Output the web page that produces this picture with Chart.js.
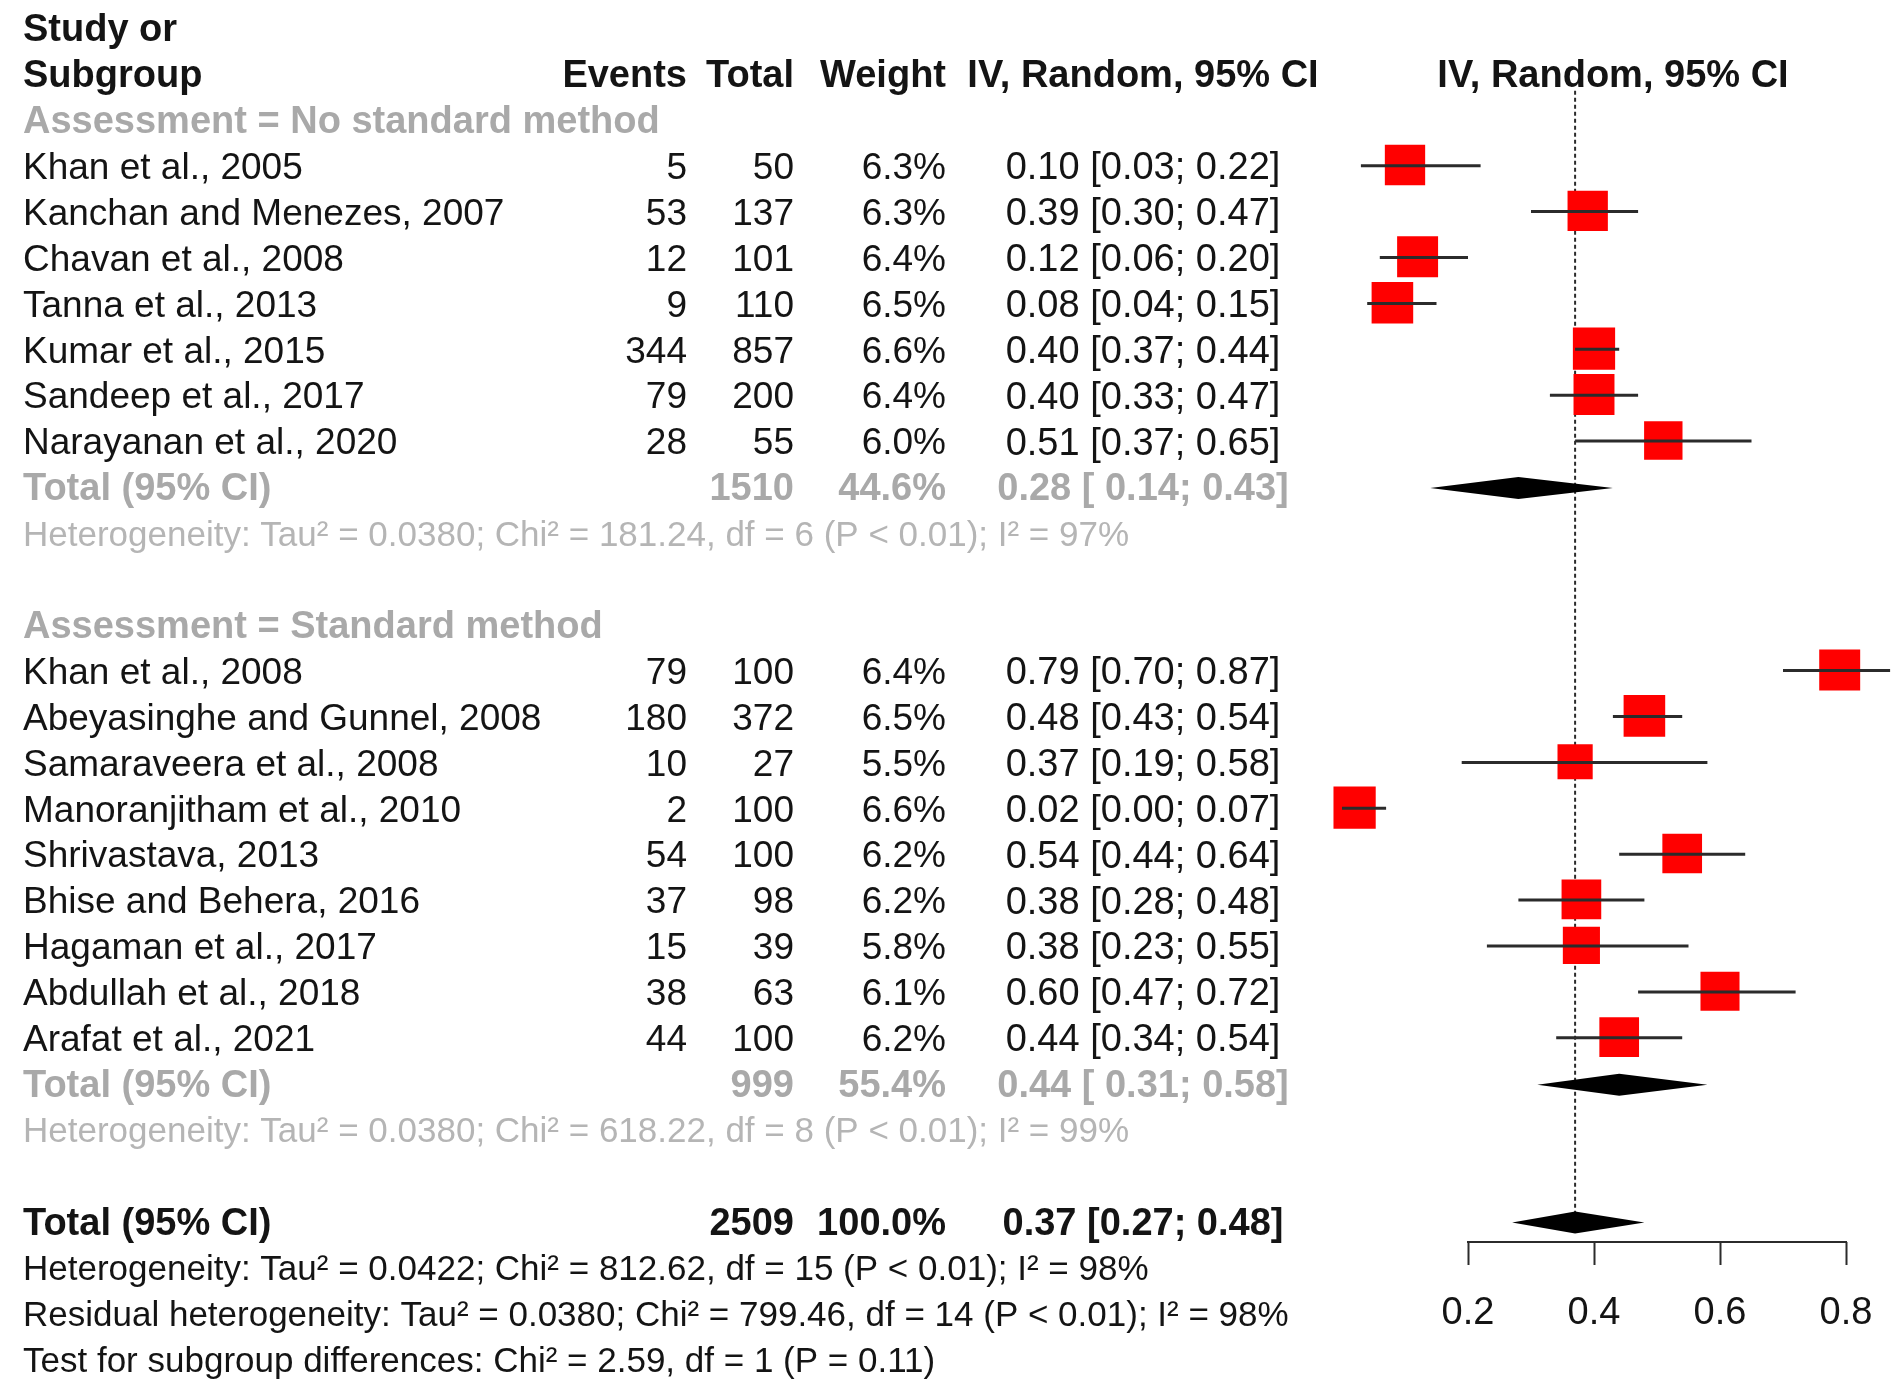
<!DOCTYPE html>
<html>
<head>
<meta charset="utf-8">
<title>Forest plot</title>
<script src="https://cdn.jsdelivr.net/npm/chart.js@4.4.1/dist/chart.umd.min.js"></script>
<style>
  html, body { margin: 0; padding: 0; background: #fff; }
  canvas { display: block; }
</style>
</head>
<body>
<canvas id="forest" width="1900" height="1392"></canvas>
<script>
// ---- Datos ----
const groupNames = ['Assessment = No standard method', 'Assessment = Standard method'];
const studyNames = [
  'Khan et al., 2005', 'Kanchan and Menezes, 2007', 'Chavan et al., 2008', 'Tanna et al., 2013',
  'Kumar et al., 2015', 'Sandeep et al., 2017', 'Narayanan et al., 2020',
  'Khan et al., 2008', 'Abeyasinghe and Gunnel, 2008', 'Samaraveera et al., 2008',
  'Manoranjitham et al., 2010', 'Shrivastava, 2013', 'Bhise and Behera, 2016',
  'Hagaman et al., 2017', 'Abdullah et al., 2018', 'Arafat et al., 2021'
];
const studyGroup = [0, 0, 0, 0, 0, 0, 0, 1, 1, 1, 1, 1, 1, 1, 1, 1];
const events  = [5, 53, 12, 9, 344, 79, 28, 79, 180, 10, 2, 54, 37, 15, 38, 44];
const totals  = [50, 137, 101, 110, 857, 200, 55, 100, 372, 27, 100, 100, 98, 39, 63, 100];
const weights = [6.3, 6.3, 6.4, 6.5, 6.6, 6.4, 6.0, 6.4, 6.5, 5.5, 6.6, 6.2, 6.2, 5.8, 6.1, 6.2];
const est     = [0.10, 0.39, 0.12, 0.08, 0.40, 0.40, 0.51, 0.79, 0.48, 0.37, 0.02, 0.54, 0.38, 0.38, 0.60, 0.44];
const lower   = [0.03, 0.30, 0.06, 0.04, 0.37, 0.33, 0.37, 0.70, 0.43, 0.19, 0.00, 0.44, 0.28, 0.23, 0.47, 0.34];
const upper   = [0.22, 0.47, 0.20, 0.15, 0.44, 0.47, 0.65, 0.87, 0.54, 0.58, 0.07, 0.64, 0.48, 0.55, 0.72, 0.54];

const subTotal  = [1510, 999];
const subWeight = [44.6, 55.4];
const subEst    = [0.28, 0.44];
const subLower  = [0.14, 0.31];
const subUpper  = [0.43, 0.58];
const subHet = [
  'Heterogeneity: Tau² = 0.0380; Chi² = 181.24, df = 6 (P < 0.01); I² = 97%',
  'Heterogeneity: Tau² = 0.0380; Chi² = 618.22, df = 8 (P < 0.01); I² = 99%'
];

const overallTotal  = 2509;
const overallWeight = 100.0;
const overallEst    = 0.37;
const overallLower  = 0.27;
const overallUpper  = 0.48;
const overallStats = [
  'Heterogeneity: Tau² = 0.0422; Chi² = 812.62, df = 15 (P < 0.01); I² = 98%',
  'Residual heterogeneity: Tau² = 0.0380; Chi² = 799.46, df = 14 (P < 0.01); I² = 98%',
  'Test for subgroup differences: Chi² = 2.59, df = 1 (P = 0.11)'
];

const xTicks = [0.2, 0.4, 0.6, 0.8];
const xTickLabels = ['0.2', '0.4', '0.6', '0.8'];

// ---- Estilo / layout ----
const FONT = '"Liberation Sans", Arial, Helvetica, sans-serif';
const C_TEXT  = '#141414';
const C_GREY  = '#a9a9a9';
const C_GREY2 = '#b5b5b5';
const C_RED   = '#ff0000';
const C_LINE  = '#2b2b2b';

const W = 1900, H = 1392;
const ROW_Y0 = 31, ROW_H = 45.9;      // pixel del renglon 0 y alto de renglon
const AXIS_H = 150;                   // alto del eje x bajo el area
const X_PX_02 = 1468, X_PX_UNIT = 630; // 0.2 -> 1468px, 1 unidad = 630px

const COL_LEFT = 23, COL_EVENTS = 687, COL_TOTAL = 794, COL_WEIGHT = 946, COL_CI = 1143, COL_PLOT = 1613;

// ---- Renglones ----
const studyRow = [], groupRow = [], totalRow = [], hetRow = [];
let r = 2;
groupNames.forEach((g, gi) => {
  groupRow[gi] = r++;
  studyGroup.forEach((sg, i) => { if (sg === gi) studyRow[i] = r++; });
  totalRow[gi] = r++;
  hetRow[gi] = r++;
  r++;
});
const overallRow = r;
const statsRow = overallStats.map((s, i) => overallRow + 1 + i);

const fmt2 = v => v.toFixed(2);
const ciText = (e, l, u, pad) => `${fmt2(e)} [${pad ? ' ' : ''}${fmt2(l)}; ${fmt2(u)}]`;

// ---- Plugin: tabla, bigotes, diamantes y eje ----
const DIAMOND_H = 11;
const forestPlugin = {
  id: 'forest',
  beforeDatasetsDraw(chart) {
    const { ctx, scales: { x, y } } = chart;
    ctx.save();
    ctx.strokeStyle = C_LINE;
    ctx.lineWidth = 2;
    ctx.setLineDash([4, 3]);
    ctx.beginPath();
    ctx.moveTo(x.getPixelForValue(overallEst), y.getPixelForValue(1.3));
    ctx.lineTo(x.getPixelForValue(overallEst), y.getPixelForValue(overallRow) - DIAMOND_H);
    ctx.stroke();
    ctx.restore();
  },
  afterDatasetsDraw(chart) {
    const { ctx, scales: { x, y } } = chart;
    ctx.save();
    // bigotes IC
    ctx.strokeStyle = C_LINE;
    ctx.lineWidth = 3;
    est.forEach((e, i) => {
      const py = y.getPixelForValue(studyRow[i]) - 3;
      ctx.beginPath();
      ctx.moveTo(x.getPixelForValue(lower[i]), py);
      ctx.lineTo(x.getPixelForValue(upper[i]), py);
      ctx.stroke();
    });
    // diamantes
    const diamond = (e, l, u, row) => {
      const py = y.getPixelForValue(row) - 2, h = DIAMOND_H;
      ctx.beginPath();
      ctx.moveTo(x.getPixelForValue(l), py);
      ctx.lineTo(x.getPixelForValue(e), py - h);
      ctx.lineTo(x.getPixelForValue(u), py);
      ctx.lineTo(x.getPixelForValue(e), py + h);
      ctx.closePath();
      ctx.fillStyle = '#000';
      ctx.fill();
    };
    subEst.forEach((e, gi) => diamond(e, subLower[gi], subUpper[gi], totalRow[gi]));
    diamond(overallEst, overallLower, overallUpper, overallRow);
    ctx.restore();
  },
  afterDraw(chart) {
    const { ctx, scales: { x, y } } = chart;
    const rowY = row => y.getPixelForValue(row);
    const txt = (s, px, row, align, font, color) => {
      ctx.font = font;
      ctx.fillStyle = color;
      ctx.textAlign = align;
      ctx.fillText(s, px, rowY(row));
    };
    const REG = `37px ${FONT}`, BOLD = `bold 38px ${FONT}`, SMALL = `35px ${FONT}`;
    const CI_REG = `38px ${FONT}`;
    ctx.save();
    ctx.textBaseline = 'middle';

    // eje x
    ctx.strokeStyle = C_LINE;
    ctx.lineWidth = 2;
    ctx.beginPath();
    ctx.moveTo(x.getPixelForValue(xTicks[0]) - 1, x.top);
    ctx.lineTo(x.getPixelForValue(xTicks[xTicks.length - 1]) + 1, x.top);
    ctx.stroke();

    // encabezados
    txt('Study or', COL_LEFT, 0, 'left', BOLD, C_TEXT);
    txt('Subgroup', COL_LEFT, 1, 'left', BOLD, C_TEXT);
    txt('Events', COL_EVENTS, 1, 'right', BOLD, C_TEXT);
    txt('Total', COL_TOTAL, 1, 'right', BOLD, C_TEXT);
    txt('Weight', COL_WEIGHT, 1, 'right', BOLD, C_TEXT);
    txt('IV, Random, 95% CI', COL_CI, 1, 'center', BOLD, C_TEXT);
    txt('IV, Random, 95% CI', COL_PLOT, 1, 'center', BOLD, C_TEXT);

    groupNames.forEach((g, gi) => {
      txt(g, COL_LEFT, groupRow[gi], 'left', BOLD, C_GREY);
      txt('Total (95% CI)', COL_LEFT, totalRow[gi], 'left', BOLD, C_GREY);
      txt(String(subTotal[gi]), COL_TOTAL, totalRow[gi], 'right', BOLD, C_GREY);
      txt(subWeight[gi].toFixed(1) + '%', COL_WEIGHT, totalRow[gi], 'right', BOLD, C_GREY);
      txt(ciText(subEst[gi], subLower[gi], subUpper[gi], true), COL_CI, totalRow[gi], 'center', BOLD, C_GREY);
      txt(subHet[gi], COL_LEFT, hetRow[gi], 'left', SMALL, C_GREY2);
    });

    studyNames.forEach((name, i) => {
      const row = studyRow[i];
      txt(name, COL_LEFT, row, 'left', REG, C_TEXT);
      txt(String(events[i]), COL_EVENTS, row, 'right', REG, C_TEXT);
      txt(String(totals[i]), COL_TOTAL, row, 'right', REG, C_TEXT);
      txt(weights[i].toFixed(1) + '%', COL_WEIGHT, row, 'right', REG, C_TEXT);
      txt(ciText(est[i], lower[i], upper[i], false), COL_CI, row, 'center', CI_REG, C_TEXT);
    });

    txt('Total (95% CI)', COL_LEFT, overallRow, 'left', BOLD, C_TEXT);
    txt(String(overallTotal), COL_TOTAL, overallRow, 'right', BOLD, C_TEXT);
    txt(overallWeight.toFixed(1) + '%', COL_WEIGHT, overallRow, 'right', BOLD, C_TEXT);
    txt(ciText(overallEst, overallLower, overallUpper, false), COL_CI, overallRow, 'center', BOLD, C_TEXT);
    overallStats.forEach((s, i) => txt(s, COL_LEFT, statsRow[i], 'left', SMALL, C_TEXT));

    ctx.restore();
  }
};

// ---- Chart ----
const yMin = -ROW_Y0 / ROW_H;
const yMax = (H - AXIS_H - ROW_Y0) / ROW_H;
const xMin = 0.2 - X_PX_02 / X_PX_UNIT;
const xMax = 0.2 + (W - X_PX_02) / X_PX_UNIT;

new Chart(document.getElementById('forest'), {
  type: 'scatter',
  data: {
    datasets: [
      {
        label: 'Studies',
        data: est.map((e, i) => ({ x: e, y: studyRow[i] - 0.08 })),
        pointStyle: 'rect',
        pointRadius: weights.map(w => (w * 6.4) / Math.SQRT2),
        backgroundColor: C_RED,
        borderColor: C_RED,
        borderWidth: 0,
        clip: false
      },
      {
        label: 'Centre',
        data: est.map((e, i) => ({ x: e, y: studyRow[i] - 0.08 })),
        pointStyle: 'cross',
        pointRadius: 6,
        borderColor: '#000',
        borderWidth: 1.5,
        clip: false
      }
    ]
  },
  options: {
    responsive: false,
    animation: false,
    devicePixelRatio: 1,
    layout: { padding: 0, autoPadding: false },
    events: [],
    plugins: { legend: { display: false }, tooltip: { enabled: false } },
    scales: {
      x: {
        type: 'linear',
        min: xMin,
        max: xMax,
        afterBuildTicks: s => { s.ticks = xTicks.map(v => ({ value: v })); },
        afterFit: s => { s.height = AXIS_H; },
        ticks: {
          font: { family: FONT, size: 38 },
          color: C_TEXT,
          padding: 26,
          maxRotation: 0,
          autoSkip: false,
          callback: (v, i) => xTickLabels[i]
        },
        grid: { drawOnChartArea: false, drawTicks: true, tickLength: 23, tickColor: C_LINE, tickWidth: 2 },
        border: { display: false }
      },
      y: { type: 'linear', reverse: true, min: yMin, max: yMax, display: false }
    }
  },
  plugins: [forestPlugin]
});
</script>
</body>
</html>
